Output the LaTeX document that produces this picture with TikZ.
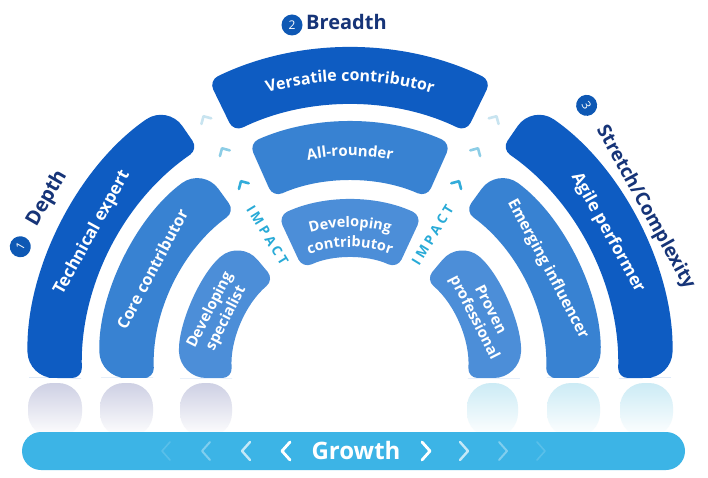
\documentclass[tikz,border=0pt]{standalone}
\usepackage{fontspec}
\setmainfont{Open Sans}
\newfontfamily\semifam{Open Sans}
\newcommand\semi{\semifam\bfseries}
\usetikzlibrary{calc,decorations.text}

\definecolor{outerblue}{RGB}{14,92,194}
\definecolor{midblue}{RGB}{56,130,210}
\definecolor{innerblue}{RGB}{76,142,216}
\definecolor{navy}{RGB}{22,52,120}
\definecolor{numblue}{RGB}{14,88,180}
\definecolor{barcyan}{RGB}{60,180,230}
\definecolor{impactc}{RGB}{40,170,215}
\definecolor{chevfaint}{RGB}{200,228,240}
\definecolor{chevmid}{RGB}{140,205,230}
\definecolor{chevstrong}{RGB}{50,172,218}
\definecolor{reflL}{RGB}{206,208,228}
\definecolor{reflR}{RGB}{204,235,245}

\newcommand\legleft[4]{% color, R1, R2, top angle
  \fill[#1] ($({180+asin(8/#2)}:#2pt)!0.5!({180+asin(8/#3)}:#3pt)$)
    [rounded corners=26pt] -- ({180+asin(8/#3)}:#3pt)
    arc[start angle={180+asin(8/#3)}, end angle=#4, radius=#3pt]
    [rounded corners=10pt] -- (#4:#2pt)
    arc[start angle=#4, end angle={180+asin(8/#2)}, radius=#2pt]
    [rounded corners=26pt] -- cycle;}
\newcommand\legright[4]{%
  \fill[#1] ($({-asin(8/#2)}:#2pt)!0.5!({-asin(8/#3)}:#3pt)$)
    [rounded corners=26pt] -- ({-asin(8/#3)}:#3pt)
    arc[start angle={-asin(8/#3)}, end angle=#4, radius=#3pt]
    [rounded corners=10pt] -- (#4:#2pt)
    arc[start angle=#4, end angle={-asin(8/#2)}, radius=#2pt]
    [rounded corners=26pt] -- cycle;}
\newcommand\archseg[5]{% color R1 R2 a1 a2
  \fill[#1, rounded corners=10pt] ($(#4:#2pt)!0.5!(#4:#3pt)$) -- (#4:#3pt)
    arc[start angle=#4, end angle=#5, radius=#3pt] -- (#5:#2pt)
    arc[start angle=#5, end angle=#4, radius=#2pt] -- cycle;}
\newcommand\chev[3]{% angle radius color
  \draw[#3, line width=2.6pt, line cap=round, line join=round]
    ($(#1:#2pt)+(#1+135:8pt)$) -- (#1:#2pt) -- ($(#1:#2pt)+(#1-135:8pt)$);}
\newcommand\barchevL[3]{%
  \draw[white, opacity=#2, line width=#3, line cap=round, line join=round]
    (#1+4,35) -- (#1-4,26) -- (#1+4,17);}
\newcommand\barchevR[3]{%
  \draw[white, opacity=#2, line width=#3, line cap=round, line join=round]
    (#1-4,35) -- (#1+4,26) -- (#1-4,17);}

\tikzset{
  lbl/.style={text=white, align=center, inner sep=0pt, font=\semi\fontsize{16}{19}\selectfont},
  head/.style={text=navy, inner sep=0pt, font=\semi\fontsize{20}{23}\selectfont},
  numc/.style={circle, fill=numblue, text=white, minimum size=21pt, inner sep=0pt, font=\semifam\fontsize{12}{12}\selectfont},
  impactlbl/.style={text=impactc, inner sep=0pt, font=\semi\addfontfeature{LetterSpace=25}\fontsize{13.5}{14}\selectfont}
}

\begin{document}
\begin{tikzpicture}[x=1pt,y=1pt]
\useasboundingbox (0,0) rectangle (708,477);
\fill[white] (0,0) rectangle (708,477);

% reflections
\foreach \a/\b/\c in {28/82/reflL,100/153/reflL,180/232/reflL,467/518/reflR,547/600/reflR,620/673/reflR}{
  \shade[top color=\c, bottom color=white, rounded corners=24pt] (\a,40) -- (\a,94) -- (\b,94) -- (\b,40) -- cycle;}

% growth bar
\fill[barcyan, rounded corners=19pt] (22,7) rectangle (685,45);
\node[text=white, inner sep=0pt, font=\semi\fontsize{24}{28}\selectfont] (growth) at (356,27) {Growth};
\barchevL{166}{0.15}{1.6pt}
\barchevL{206}{0.35}{2pt}
\barchevL{246}{0.7}{2.4pt}
\barchevL{286}{1}{2.8pt}
\barchevR{426}{1}{2.8pt}
\barchevR{464}{0.7}{2.4pt}
\barchevR{503}{0.35}{2pt}
\barchevR{541}{0.15}{1.6pt}

% breadth heading
\node[numc] (n2) at (292,452) {2};
\node[head, anchor=west] (breadth) at (306,455) {Breadth};

\begin{scope}[shift={(350,107)}]
  % outer ring
  \legleft{outerblue}{268}{322}{124.5}
  \archseg{outerblue}{265}{322}{116}{64}
  \legright{outerblue}{268}{322}{55.5}
  % middle ring
  \legleft{midblue}{196}{250}{126}
  \archseg{midblue}{189}{248}{114}{66}
  \legright{midblue}{196}{250}{54}
  % inner ring
  \legleft{innerblue}{118}{170}{130}
  \archseg{innerblue}{112}{170}{115}{65}
  \legright{innerblue}{118}{170}{50}

  % chevrons
  \chev{120}{293}{chevfaint}
  \chev{120}{256}{chevmid}
  \chev{120}{218}{chevstrong}
  \chev{60}{293}{chevfaint}
  \chev{60}{256}{chevmid}
  \chev{60}{218}{chevstrong}

  % impact
  \node[impactlbl, rotate=-58.5] (impL) at (121.5:158pt) {IMPACT};
  \node[impactlbl, rotate=58.5] (impR) at (58.5:158pt) {IMPACT};

  % leg labels
  \node[lbl, rotate=61, font=\semi\fontsize{17}{20}\selectfont] (te) at (152:292pt) {Technical expert};
  \node[lbl, rotate=62] (cc) at (153:222pt) {Core contributor};
  \node[lbl, rotate=63, font=\semi\fontsize{15}{18}\selectfont] (ds) at (157:143pt) {Developing\\specialist};
  \node[lbl, rotate=-61, font=\semi\fontsize{17}{20}\selectfont] (ap) at (28:292pt) {Agile performer};
  \node[lbl, rotate=-62, font=\semi\fontsize{15.5}{19}\selectfont] (ei) at (27:222pt) {Emerging influencer};
  \node[lbl, rotate=-63, font=\semi\fontsize{15}{18}\selectfont] (pp) at (23:143pt) {Proven\\professional};

  % arch labels (curved)
  \path[decorate, decoration={text along path, text color=white, text align=center,
     text={|\semi\fontsize{16}{20}\selectfont|Versatile contributor}}]
     (125:289pt) arc[start angle=125, end angle=55, radius=289pt];
  \path[decorate, decoration={text along path, text color=white, text align=center,
     text={|\semi\fontsize{15}{19}\selectfont|All-rounder}}]
     (125:214pt) arc[start angle=125, end angle=55, radius=214pt];
  \path[decorate, decoration={text along path, text color=white, text align=center,
     text={|\semi\fontsize{14.5}{18}\selectfont|Developing}}]
     (125:143pt) arc[start angle=125, end angle=55, radius=143pt];
  \path[decorate, decoration={text along path, text color=white, text align=center,
     text={|\semi\fontsize{14.5}{18}\selectfont|contributor}}]
     (125:123pt) arc[start angle=125, end angle=55, radius=123pt];

  % side headings
  \node[numc, rotate=60] (n1) at (159.5:352pt) {1};
  \node[head, rotate=60] (depth) at (150.5:348pt) {Depth};
  \node[numc, rotate=-61] (n3) at (48.2:355pt) {3};
  \node[head, rotate=-61, font=\semi\fontsize{19}{22}\selectfont] (stretch) at (28.8:337pt) {Stretch/Complexity};
\end{scope}
\end{tikzpicture}
\end{document}
